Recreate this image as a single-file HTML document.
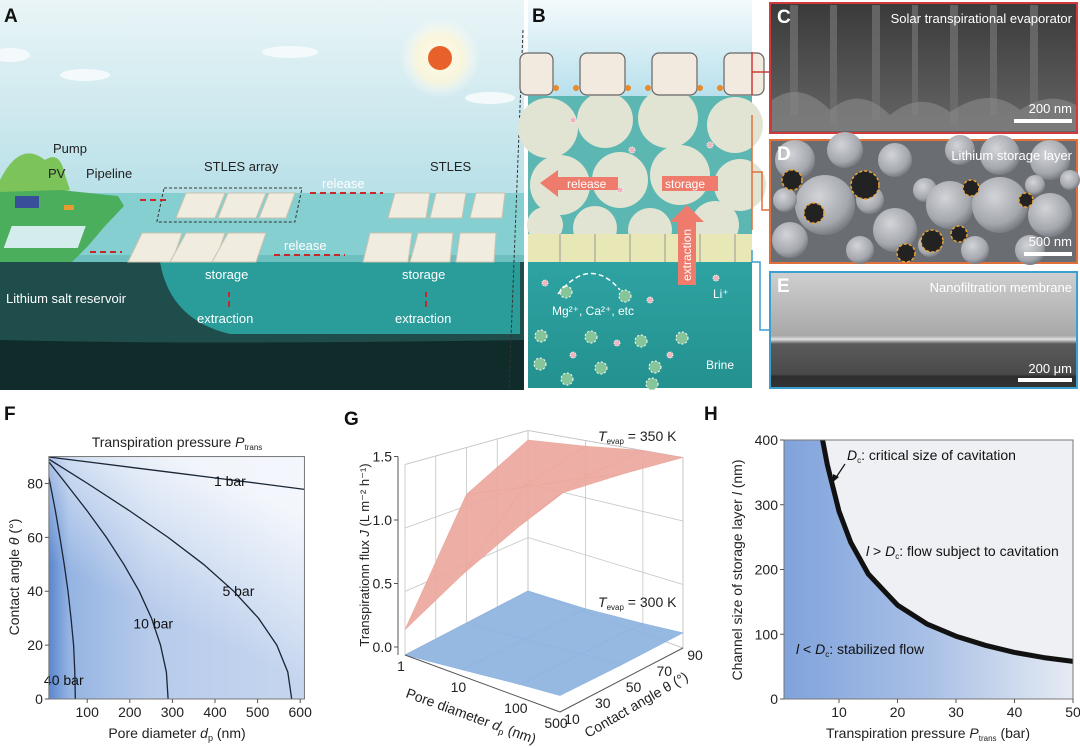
<!DOCTYPE html>
<html><head><meta charset="utf-8">
<style>
html,body{margin:0;padding:0;background:#fff;}
body{width:1080px;height:747px;position:relative;overflow:hidden;font-family:"Liberation Sans",sans-serif;}
svg{position:absolute;left:0;top:0;}
text{font-family:"Liberation Sans",sans-serif;}
.pl{font-weight:bold;font-size:19px;fill:#111;}
</style></head>
<body>
<svg width="1080" height="747" viewBox="0 0 1080 747">
<defs>
<linearGradient id="sky" x1="0" y1="0" x2="0" y2="1"><stop offset="0" stop-color="#eaf5f7"/><stop offset="1" stop-color="#b9e0e8"/></linearGradient>
<radialGradient id="glow"><stop offset="0" stop-color="#fffbe6"/><stop offset="0.6" stop-color="#fff6d8" stop-opacity="0.8"/><stop offset="1" stop-color="#fff" stop-opacity="0"/></radialGradient>
<linearGradient id="btop" x1="0" y1="0" x2="0" y2="1"><stop offset="0" stop-color="#f4fafc"/><stop offset="1" stop-color="#b8e0ec"/></linearGradient>
<linearGradient id="brine" x1="0" y1="0" x2="0" y2="1"><stop offset="0" stop-color="#2ea3a2"/><stop offset="1" stop-color="#23918f"/></linearGradient>
<linearGradient id="fbg" x1="0" y1="0" x2="1" y2="0"><stop offset="0" stop-color="#5a86cf"/><stop offset="0.08" stop-color="#95b4e2"/><stop offset="0.4" stop-color="#b7cbeb"/><stop offset="1" stop-color="#c6d6ef"/></linearGradient>
<linearGradient id="ftop2" x1="0" y1="1" x2="0.5" y2="0"><stop offset="0.45" stop-color="#fff" stop-opacity="0"/><stop offset="1" stop-color="#fff" stop-opacity="0.8"/></linearGradient>
<linearGradient id="hbg" x1="0" y1="0" x2="1" y2="0"><stop offset="0" stop-color="#80a3dc"/><stop offset="0.5" stop-color="#a9c0e6"/><stop offset="1" stop-color="#e6ebf3"/></linearGradient>
<linearGradient id="cimg" x1="0" y1="0" x2="0" y2="1"><stop offset="0" stop-color="#3a3a3a"/><stop offset="1" stop-color="#666"/></linearGradient>
<linearGradient id="eimg" x1="0" y1="0" x2="0" y2="1"><stop offset="0" stop-color="#cfcfcf"/><stop offset="0.55" stop-color="#a8a8a8"/><stop offset="0.58" stop-color="#e0e0e0"/><stop offset="0.62" stop-color="#5a5a5a"/><stop offset="0.88" stop-color="#4a4a4a"/><stop offset="0.9" stop-color="#2e2e2e"/><stop offset="1" stop-color="#333"/></linearGradient>
<radialGradient id="sph" cx="0.4" cy="0.35" r="0.7"><stop offset="0" stop-color="#d2d4d8"/><stop offset="0.7" stop-color="#a4a7ad"/><stop offset="1" stop-color="#6e7177"/></radialGradient>
</defs>

<!-- ============ PANEL A ============ -->
<g>
<rect x="0" y="0" width="524" height="194" fill="url(#sky)"/>
<circle cx="440" cy="58" r="40" fill="url(#glow)"/>
<circle cx="440" cy="58" r="12" fill="#e8602a"/>
<ellipse cx="290" cy="52" rx="28" ry="6" fill="#f4fafb"/><ellipse cx="10" cy="55" rx="20" ry="7" fill="#f4fafb"/><ellipse cx="85" cy="75" rx="25" ry="6" fill="#f4fafb"/><ellipse cx="490" cy="98" rx="25" ry="6" fill="#f4fafb"/>
<rect x="0" y="193" width="524" height="70" fill="#86cfd0"/>
<rect x="0" y="255" width="524" height="8" fill="#6dbfc0"/>
<path d="M0 180 Q20 140 45 160 Q60 150 65 175 L70 190 L0 200Z" fill="#7cc35a"/>
<path d="M0 192 L60 190 L118 196 L124 206 L105 226 L88 246 L72 262 L0 262Z" fill="#4aae5c"/>
<rect x="12" y="226" width="74" height="22" fill="#d5ecec" transform="skewX(-20) translate(82,0)"/>
<rect x="15" y="196" width="24" height="12" fill="#3a4f9a"/>
<rect x="64" y="205" width="10" height="5" fill="#e79a2e"/>
<path d="M0 262 L524 262 L524 390 L0 390Z" fill="#1e4d4b"/>
<path d="M160 262 L520 262 L520 334 L230 334 Q170 320 160 262Z" fill="#2a9c9a"/>
<path d="M0 340 Q200 345 524 340 L524 390 L0 390Z" fill="#0f2b2a"/>
<g fill="#f1ece0" stroke="#c9c2ae" stroke-width="1">
<polygon points="186,193 225,193 215,218 176,218"/><polygon points="228,193 266,193 256,218 218,218"/><polygon points="269,193 295,193 286,218 259,218"/>
<polygon points="142,233 182,233 172,262 128,262"/><polygon points="186,233 225,233 215,262 170,262"/><polygon points="228,233 266,233 256,262 212,262"/>
<polygon points="395,193 430,193 426,218 388,218"/><polygon points="436,193 466,193 462,218 430,218"/><polygon points="476,193 505,193 502,218 470,218"/>
<polygon points="370,233 412,233 408,262 363,262"/><polygon points="418,233 453,233 450,262 410,262"/><polygon points="460,233 496,233 494,262 456,262"/>
</g>
<rect x="164" y="188" width="138" height="34" fill="none" stroke="#333" stroke-dasharray="3,2" transform="skewX(-12) translate(40,0)"/>
<g stroke="#c62828" stroke-width="2" stroke-dasharray="6,4"><line x1="140" y1="200" x2="168" y2="200"/><line x1="310" y1="193" x2="383" y2="193"/><line x1="90" y1="252" x2="122" y2="252"/><line x1="274" y1="255" x2="345" y2="255"/><line x1="229" y1="307" x2="229" y2="292"/><line x1="426" y1="307" x2="426" y2="292"/></g>
<g font-size="13" fill="#222">
<text x="53" y="153">Pump</text>
<text x="48" y="178">PV</text>
<text x="86" y="178">Pipeline</text>
<text x="204" y="171">STLES array</text>
<text x="430" y="171">STLES</text>
</g>
<g font-size="13" fill="#fff">
<text x="322" y="188">release</text>
<text x="284" y="250">release</text>
<text x="205" y="279">storage</text>
<text x="402" y="279">storage</text>
<text x="197" y="323">extraction</text>
<text x="395" y="323">extraction</text>
<text x="6" y="303">Lithium salt reservoir</text>
</g>
<text x="4" y="22" class="pl">A</text>
<line x1="523" y1="30" x2="509" y2="390" stroke="#333" stroke-dasharray="3,2"/>
</g>

<!-- ============ PANEL B ============ -->
<g>
<rect x="528" y="0" width="224" height="96" fill="url(#btop)"/>
<rect x="528" y="96" width="224" height="138" fill="#5cb7b2"/>
<g fill="#e1e4d2">
<circle cx="548" cy="128" r="30"/><circle cx="605" cy="120" r="28"/><circle cx="668" cy="118" r="30"/><circle cx="735" cy="125" r="28"/>
<circle cx="560" cy="185" r="30"/><circle cx="620" cy="180" r="28"/><circle cx="680" cy="175" r="30"/><circle cx="740" cy="185" r="26"/>
<circle cx="545" cy="225" r="18"/><circle cx="595" cy="228" r="22"/><circle cx="650" cy="230" r="22"/><circle cx="715" cy="225" r="24"/>
</g>
<g fill="#f2eadf" stroke="#666" stroke-width="1.2">
<rect x="520" y="53" width="33" height="42" rx="7"/><rect x="580" y="53" width="45" height="42" rx="7"/><rect x="652" y="53" width="45" height="42" rx="7"/><rect x="724" y="53" width="40" height="42" rx="7"/>
</g>
<g fill="#e88a2c"><circle cx="556" cy="88" r="3"/><circle cx="576" cy="88" r="3"/><circle cx="628" cy="88" r="3"/><circle cx="648" cy="88" r="3"/><circle cx="700" cy="88" r="3"/><circle cx="720" cy="88" r="3"/></g>
<rect x="528" y="234" width="224" height="28" fill="#e8e7b6"/>
<g stroke="#999" stroke-width="1"><line x1="560" y1="234" x2="560" y2="262"/><line x1="595" y1="234" x2="595" y2="262"/><line x1="630" y1="234" x2="630" y2="262"/><line x1="665" y1="234" x2="665" y2="262"/><line x1="700" y1="234" x2="700" y2="262"/><line x1="735" y1="234" x2="735" y2="262"/></g>
<rect x="528" y="262" width="224" height="126" fill="url(#brine)"/>
<g fill="#86c49a" stroke="#fff" stroke-dasharray="2,2"><circle cx="566" cy="292" r="6"/><circle cx="625" cy="296" r="6"/><circle cx="541" cy="336" r="6"/><circle cx="591" cy="337" r="6"/><circle cx="641" cy="341" r="6"/><circle cx="682" cy="338" r="6"/><circle cx="540" cy="364" r="6"/><circle cx="601" cy="368" r="6"/><circle cx="655" cy="367" r="6"/><circle cx="567" cy="379" r="6"/><circle cx="652" cy="384" r="6"/></g>
<g fill="#f0b5be" stroke="#fff" stroke-dasharray="1,1"><circle cx="545" cy="283" r="3"/><circle cx="650" cy="300" r="3"/><circle cx="716" cy="278" r="3"/><circle cx="617" cy="343" r="3"/><circle cx="573" cy="355" r="3"/><circle cx="670" cy="355" r="3"/><circle cx="573" cy="120" r="3"/><circle cx="632" cy="150" r="3"/><circle cx="620" cy="190" r="3"/><circle cx="690" cy="225" r="3"/><circle cx="710" cy="145" r="3"/></g>
<path d="M558 294 Q590 255 620 290" fill="none" stroke="#fff" stroke-width="1.5" stroke-dasharray="5,3"/>
<polygon points="540,183 558,170 558,177 618,177 618,190 558,190 558,197" fill="#ef7b6c"/>
<rect x="662" y="176" width="56" height="15" fill="#ef7b6c"/>
<polygon points="678,285 678,222 670,222 687,205 704,222 696,222 696,285" fill="#ef7b6c"/>
<g fill="#fff" font-size="12"><text x="567" y="188">release</text><text x="665" y="188">storage</text><text x="691" y="281" transform="rotate(-90 691 281)">extraction</text><text x="713" y="298">Li⁺</text><text x="552" y="315">Mg²⁺, Ca²⁺, etc</text><text x="706" y="369">Brine</text></g>
<text x="532" y="22" class="pl">B</text>
<g fill="none" stroke-width="1.5"><path d="M752 52 L752 95 M752 72 L770 72" stroke="#d03a3a"/><path d="M752 115 L752 230 M752 172 L762 172 L762 210 L770 210" stroke="#e0703a"/><path d="M752 250 L752 262 L760 262 L760 330 L770 330" stroke="#3aa0d0"/></g>
</g>

<!-- ============ PANELS C D E ============ -->
<g>
<rect x="770" y="3" width="307" height="130" fill="url(#cimg)" stroke="#d03a3a" stroke-width="2"/>
<g fill="#6e6e6e" opacity="0.8"><rect x="790" y="5" width="8" height="110"/><rect x="830" y="5" width="7" height="120"/><rect x="872" y="5" width="8" height="115"/><rect x="912" y="5" width="6" height="110"/><rect x="950" y="5" width="8" height="120"/><rect x="990" y="5" width="7" height="110"/><rect x="1030" y="5" width="8" height="115"/></g>
<path d="M772 100 Q800 80 830 110 Q860 85 890 115 Q920 90 950 112 Q990 85 1020 110 Q1050 90 1076 105 L1076 131 L772 131Z" fill="#8a8a8a" opacity="0.6"/>
<text x="1072" y="23" font-size="13" fill="#fff" text-anchor="end">Solar transpirational evaporator</text>
<text x="1072" y="113" font-size="13" fill="#fff" text-anchor="end">200 nm</text><rect x="1014" y="119" width="58" height="4" fill="#fff"/>
<text x="777" y="23" class="pl" style="fill:#fff">C</text>
</g>
<g>
<rect x="770" y="140" width="307" height="123" fill="#6a6d72" stroke="#e0703a" stroke-width="2"/>
<g fill="url(#sph)"><circle cx="795" cy="160" r="20"/><circle cx="845" cy="150" r="18"/><circle cx="895" cy="160" r="17"/><circle cx="960" cy="150" r="15"/><circle cx="1000" cy="155" r="20"/><circle cx="1050" cy="160" r="20"/><circle cx="825" cy="205" r="30"/><circle cx="895" cy="230" r="22"/><circle cx="925" cy="190" r="12"/><circle cx="950" cy="205" r="24"/><circle cx="1000" cy="205" r="28"/><circle cx="1050" cy="215" r="22"/><circle cx="790" cy="240" r="18"/><circle cx="860" cy="250" r="14"/><circle cx="975" cy="250" r="14"/><circle cx="1030" cy="250" r="15"/><circle cx="930" cy="245" r="12"/><circle cx="1070" cy="180" r="10"/><circle cx="870" cy="200" r="14"/><circle cx="1035" cy="185" r="10"/><circle cx="785" cy="200" r="12"/></g>
<g fill="#222" stroke="#e8a33a" stroke-dasharray="3,2" stroke-width="1.5"><circle cx="792" cy="180" r="10"/><circle cx="865" cy="185" r="14"/><circle cx="814" cy="213" r="10"/><circle cx="971" cy="188" r="8"/><circle cx="1026" cy="200" r="7"/><circle cx="906" cy="253" r="9"/><circle cx="959" cy="234" r="8"/><circle cx="932" cy="241" r="11"/></g>
<text x="1072" y="160" font-size="13" fill="#fff" text-anchor="end">Lithium storage layer</text>
<text x="1072" y="246" font-size="13" fill="#fff" text-anchor="end">500 nm</text><rect x="1024" y="252" width="48" height="4" fill="#fff"/>
<text x="777" y="160" class="pl" style="fill:#fff">D</text>
</g>
<g>
<rect x="770" y="272" width="307" height="116" fill="url(#eimg)" stroke="#3aa0d0" stroke-width="2"/>
<text x="1072" y="292" font-size="13" fill="#fff" text-anchor="end">Nanofiltration membrane</text>
<text x="1072" y="373" font-size="13" fill="#fff" text-anchor="end">200 μm</text><rect x="1018" y="378" width="54" height="4" fill="#fff"/>
<text x="777" y="292" class="pl" style="fill:#fff">E</text>
</g>

<!-- ============ F ============ -->
<g id="chartF">
<text x="4" y="420" class="pl">F</text>
<text x="177" y="447" font-size="14" text-anchor="middle" fill="#222">Transpiration pressure <tspan font-style="italic">P</tspan><tspan font-size="8" dy="3">trans</tspan></text>
<text x="177" y="738" font-size="14" text-anchor="middle" fill="#222">Pore diameter <tspan font-style="italic">d</tspan><tspan font-size="9" dy="3">p</tspan><tspan dy="-3"> (nm)</tspan></text>
<text x="19" y="577" font-size="14" text-anchor="middle" fill="#222" transform="rotate(-90 19 577)">Contact angle <tspan font-style="italic">θ</tspan> (°)</text>
</g>
<!-- ============ G ============ -->
<g id="chartG">
<text x="344" y="425" class="pl">G</text>
<text x="369" y="555" font-size="13" text-anchor="middle" fill="#222" transform="rotate(-90 369 555)">Transpirationn flux <tspan font-style="italic">J</tspan> (L m⁻² h⁻¹)</text>
<text x="405" y="697" font-size="14" fill="#222" transform="rotate(20 405 697)">Pore diameter <tspan font-style="italic">d</tspan><tspan font-size="9" dy="3">p</tspan><tspan dy="-3"> (nm)</tspan></text>
<text x="588" y="738" font-size="14" fill="#222" transform="rotate(-30 588 738)">Contact angle θ (°)</text>
</g>
<!-- ============ H ============ -->
<g id="chartH">
<text x="704" y="420" class="pl">H</text>
<text x="928" y="738" font-size="14" text-anchor="middle" fill="#222">Transpiration pressure <tspan font-style="italic">P</tspan><tspan font-size="8" dy="3">trans</tspan><tspan dy="-3"> (bar)</tspan></text>
<text x="742" y="570" font-size="14" text-anchor="middle" fill="#222" transform="rotate(-90 742 570)">Channel size of storage layer <tspan font-style="italic">l</tspan> (nm)</text>
</g>
</svg>

<script>
const NS='http://www.w3.org/2000/svg';
function mk(parent,tag,attrs){const e=document.createElementNS(NS,tag);for(const k in attrs)e.setAttribute(k,attrs[k]);parent.appendChild(e);return e;}

/* ---------- F data ---------- */
const fThetaGrid=[0,10,20,30,40,50,60,70,80,90];
const f1barTheta=[77,80,82,84,86,88,90];
const f1barD=[650,504,404,303,202,101,0];
const fD5bar=[580,571,545,502,444,373,290,198,101,0];
const fD10bar=[290,286,272,251,222,186,145,99,50,0];
const fD40bar=[72,71,68,62,55,46,36,25,13,0];
const fXTicks=[100,200,300,400,500,600];
const fYTicks=[0,20,40,60,80];
const fLabels=['1 bar','5 bar','10 bar','40 bar'];

const fx=v=>44.6+v*0.426, fy=t=>699-t*2.694;
const FX0=10,FX1=610;
(function(){
 const g=document.getElementById('chartF');
 const L=fx(FX0),R=fx(FX1),T=fy(90),B=fy(0);
 const clip=mk(g,'clipPath',{id:'fclip'});mk(clip,'rect',{x:L,y:T,width:R-L,height:B-T});
 const bg=mk(g,'rect',{x:L,y:T,width:R-L,height:B-T,fill:'url(#fbg)'});
 
 
 mk(g,'rect',{x:L,y:T,width:R-L,height:B-T,fill:'url(#ftop2)'});
 const cg=mk(g,'g',{'clip-path':'url(#fclip)',fill:'none',stroke:'#1a2535','stroke-width':'1.3'});
 const series=[[f1barTheta,f1barD],[fThetaGrid,fD5bar],[fThetaGrid,fD10bar],[fThetaGrid,fD40bar]];
 const names=['contour-1-bar','contour-5-bar','contour-10-bar','contour-40-bar'];
 series.forEach((s,i)=>{
  let d='';s[0].forEach((t,j)=>{d+=(j?'L':'M')+fx(s[1][j]).toFixed(1)+' '+fy(t).toFixed(1);});
  const p=mk(cg,'path',{d:d});
  
  
 });
 const lp=[[435,81],[455,40],[255,28],[45,7]];
 lp.forEach((q,i)=>{
  const t=mk(g,'text',{x:fx(q[0]),y:fy(q[1])+5,'font-size':'14','text-anchor':'middle',fill:'#111'});t.textContent=fLabels[i];
  
  
 });
 mk(g,'rect',{x:L,y:T,width:R-L,height:B-T,fill:'none',stroke:'#777','stroke-width':'1'});
 fXTicks.forEach(v=>{mk(g,'line',{x1:fx(v),x2:fx(v),y1:B,y2:B+4,stroke:'#555'});
  const t=mk(g,'text',{x:fx(v),y:B+18,'font-size':'14','text-anchor':'middle',fill:'#222'});t.textContent=v;
  
  });
 fYTicks.forEach(v=>{mk(g,'line',{x1:L-4,x2:L,y1:fy(v),y2:fy(v),stroke:'#555'});
  const t=mk(g,'text',{x:L-6,y:fy(v)+5,'font-size':'14','text-anchor':'end',fill:'#222'});t.textContent=v;
  
  });
})();

/* ---------- G data ---------- */
const gDiam=[1,10,100,500];
const gTheta=[10,50,90];
const gJ350_t10=[0.2,0.8,1.35,1.72];
const gJ350_t50=[1.1,1.3,1.5,1.62];
const gJ350_t90=[1.41,1.45,1.5,1.5];
const gJ300_t10=[0,0.05,0.1,0.13];
const gJ300_t50=[0,0.04,0.09,0.12];
const gJ300_t90=[0,0.03,0.08,0.12];
const gZTicks=[0,0.5,1.0,1.5];
const gDTicks=[1,10,100,500];
const gTTicks=[10,30,50,70,90];

const gu=d=>Math.log10(d)/Math.log10(500), gv=t=>(t-10)/80;
function gp(d,t,J){const u=gu(d),v=gv(t);const k=127-20*v*(1-u);return [405+155*u+123*v, 655+57*u-64*v-J*k];}
(function(){
 const g=document.getElementById('chartG');
 const ax=mk(g,'g',{stroke:'#c4c4c4','stroke-width':'0.8',fill:'none'});
 const bl0=gp(1,90,0),bl1=gp(1,90,1.5),br0=gp(500,90,0),br1=gp(500,90,1.5),fl0=gp(1,10,0),fl1=gp(1,10,1.5),fr0=gp(500,10,0);
 [[bl0,bl1],[bl1,br1],[bl1,fl1],[br0,br1],[bl0,br0],[bl0,fl0]].forEach(s=>mk(ax,'line',{x1:s[0][0],y1:s[0][1],x2:s[1][0],y2:s[1][1]}));
 gZTicks.forEach(z=>{const a=gp(1,10,z),b=gp(1,90,z),c=gp(500,90,z);mk(ax,'polyline',{points:a.join(',')+' '+b.join(',')+' '+c.join(',')});});
 gTTicks.forEach(t=>{const a=gp(1,t,0),b=gp(1,t,1.5);mk(ax,'line',{x1:a[0],y1:a[1],x2:b[0],y2:b[1]});});
 gDTicks.forEach(d=>{const a=gp(d,90,0),b=gp(d,90,1.5);mk(ax,'line',{x1:a[0],y1:a[1],x2:b[0],y2:b[1]});});
 function surf(rows,fill,name){
  const sg=mk(g,'g',{fill:fill,stroke:fill,'stroke-width':'0.6','fill-opacity':'0.92'});
  
  
  for(let i=rows.length-2;i>=0;i--)for(let j=0;j<gDiam.length-1;j++){
   const pts=[gp(gDiam[j],gTheta[i],rows[i][j]),gp(gDiam[j+1],gTheta[i],rows[i][j+1]),gp(gDiam[j+1],gTheta[i+1],rows[i+1][j+1]),gp(gDiam[j],gTheta[i+1],rows[i+1][j])];
   mk(sg,'polygon',{points:pts.map(p=>p[0].toFixed(1)+','+p[1].toFixed(1)).join(' ')});
  }
 }
 surf([gJ300_t10,gJ300_t50,gJ300_t90],'#8db3e0','surface-300k');
 surf([gJ350_t10,gJ350_t50,gJ350_t90],'#eca79d','surface-350k');
 const A=mk(g,'g',{stroke:'#555','stroke-width':'1',fill:'none'});
 const zx=398, zy0=647;
 mk(A,'line',{x1:zx,y1:zy0+8,x2:zx,y2:zy0-1.5*127});
 gZTicks.forEach(z=>{const y=zy0-z*127;mk(A,'line',{x1:zx-4,x2:zx,y1:y,y2:y});
  const t=mk(g,'text',{x:zx-6,y:y+5,'font-size':'14','text-anchor':'end',fill:'#222'});t.textContent=z.toFixed(1);
  
  });
 mk(A,'line',{x1:fl0[0],y1:fl0[1],x2:fr0[0],y2:fr0[1]});
 mk(A,'line',{x1:fr0[0],y1:fr0[1],x2:br0[0],y2:br0[1]});
 gDTicks.forEach(d=>{const p=gp(d,10,0);const t=mk(g,'text',{x:p[0]-4,y:p[1]+16,'font-size':'14','text-anchor':'middle',fill:'#222'});t.textContent=d;
  
  });
 gTTicks.forEach(th=>{const p=gp(500,th,0);const t=mk(g,'text',{x:p[0]+12,y:p[1]+12,'font-size':'14','text-anchor':'middle',fill:'#222'});t.textContent=th;
  
  });
 const l1=mk(g,'text',{x:598,y:441,'font-size':'14',fill:'#222'});l1.innerHTML='<tspan font-style="italic">T</tspan><tspan font-size="8" dy="3">evap</tspan><tspan dy="-3"> = 350 K</tspan>';
 
 
 const l2=mk(g,'text',{x:598,y:607,'font-size':'14',fill:'#222'});l2.innerHTML='<tspan font-style="italic">T</tspan><tspan font-size="8" dy="3">evap</tspan><tspan dy="-3"> = 300 K</tspan>';
 
 
})();

/* ---------- H data ---------- */
const hPressure=[7.2,8,10,12,15,20,25,30,35,40,45,50];
const hDc=[400,362,290,242,193,145,116,97,83,72,64,58];
const hXTicks=[10,20,30,40,50];
const hYTicks=[0,100,200,300,400];
const hx=p=>780.5+p*5.85, hy=l=>699-l*0.6475;
(function(){
 const g=document.getElementById('chartH');
 const L=hx(0.6),R=hx(50),T=hy(400),B=hy(0);
 mk(g,'rect',{x:L,y:T,width:R-L,height:B-T,fill:'#eef0f3'});
 let d='M'+L+' '+B+' L'+L+' '+T;
 hPressure.forEach((p,i)=>{d+=' L'+hx(p).toFixed(1)+' '+hy(hDc[i]).toFixed(1);});
 d+=' L'+R+' '+B+'Z';
 const a=mk(g,'path',{d:d,fill:'url(#hbg)'});
 
 
 let c='';hPressure.forEach((p,i)=>{c+=(i?'L':'M')+hx(p).toFixed(1)+' '+hy(hDc[i]).toFixed(1);});
 const cl=mk(g,'path',{d:c,fill:'none',stroke:'#111','stroke-width':'5','stroke-linejoin':'round'});
 
 
 mk(g,'rect',{x:L,y:T,width:R-L,height:B-T,fill:'none',stroke:'#777'});
 hXTicks.forEach(v=>{mk(g,'line',{x1:hx(v),x2:hx(v),y1:B,y2:B+4,stroke:'#555'});
  const t=mk(g,'text',{x:hx(v),y:B+18,'font-size':'14','text-anchor':'middle',fill:'#222'});t.textContent=v;
  
  });
 hYTicks.forEach(v=>{mk(g,'line',{x1:L-4,x2:L,y1:hy(v),y2:hy(v),stroke:'#555'});
  const t=mk(g,'text',{x:L-6,y:hy(v)+5,'font-size':'14','text-anchor':'end',fill:'#222'});t.textContent=v;
  
  });
 const t1=mk(g,'text',{x:847,y:460,'font-size':'14',fill:'#111'});t1.innerHTML='<tspan font-style="italic">D</tspan><tspan font-size="8" dy="3">c</tspan><tspan dy="-3">: critical size of cavitation</tspan>';
 
 
 mk(g,'line',{x1:845,y1:464,x2:835,y2:479,stroke:'#111','stroke-width':'1.2'});
 mk(g,'polygon',{points:'833,482 833,474 839,477',fill:'#111'});
 const t2=mk(g,'text',{x:866,y:556,'font-size':'14',fill:'#111'});t2.innerHTML='<tspan font-style="italic">l</tspan> &gt; <tspan font-style="italic">D</tspan><tspan font-size="8" dy="3">c</tspan><tspan dy="-3">: flow subject to cavitation</tspan>';
 
 
 const t3=mk(g,'text',{x:796,y:654,'font-size':'14',fill:'#111'});t3.innerHTML='<tspan font-style="italic">l</tspan> &lt; <tspan font-style="italic">D</tspan><tspan font-size="8" dy="3">c</tspan><tspan dy="-3">: stabilized flow</tspan>';
 
 
})();
</script>
</body></html>
